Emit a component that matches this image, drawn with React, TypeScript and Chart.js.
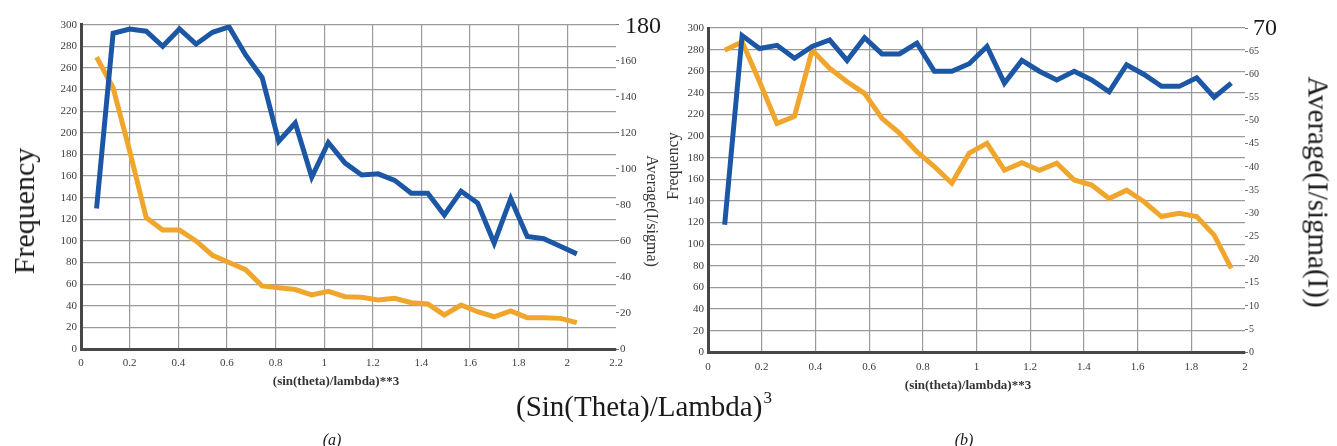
import React, { useEffect, useRef } from "react";
import { Chart, registerables } from "chart.js";

Chart.register(...registerables);

// ---- Panel (a) ----
const xA = [0.064, 0.132, 0.2, 0.268, 0.336, 0.405, 0.473, 0.541, 0.609, 0.677, 0.745, 0.813, 0.881, 0.949, 1.017, 1.086, 1.154, 1.222, 1.29, 1.358, 1.426, 1.494, 1.563, 1.631, 1.699, 1.767, 1.835, 1.903, 1.971, 2.039];
const freqA = [130, 292, 296, 294, 280, 296, 282, 293, 298, 272, 251, 192, 209, 159, 191, 172, 161, 162, 156, 144, 144, 124, 146, 135, 98, 139, 104, 102, 95, 88];
const isigA = [162, 145, 110, 73, 66, 66, 60, 52, 48, 44, 35, 34, 33, 30, 32, 29, 28.7, 27.2, 28.1, 25.7, 25, 18.9, 24.4, 20.7, 17.9, 21.1, 17.4, 17.4, 17, 14.6];

// ---- Panel (b) ----
const xB = [0.062, 0.127, 0.192, 0.257, 0.322, 0.388, 0.453, 0.518, 0.583, 0.648, 0.713, 0.778, 0.843, 0.908, 0.973, 1.039, 1.104, 1.169, 1.234, 1.299, 1.364, 1.429, 1.494, 1.559, 1.624, 1.689, 1.755, 1.82, 1.885, 1.949];
const freqB = [118, 293, 281, 284, 272, 283, 289, 270, 291, 276, 276, 286, 260, 260, 267, 283, 249, 270, 260, 252, 260, 252, 241, 266, 257, 246, 246, 254, 236, 249];
const isigB = [65.2, 67, 58.4, 49.4, 50.9, 65.2, 61.3, 58.4, 55.9, 50.5, 47.3, 43.3, 40.1, 36.5, 43, 45.1, 39.3, 40.9, 39.3, 40.8, 37.2, 36.1, 33.2, 35, 32.5, 29.3, 30, 29.3, 25.3, 18.1];

// Axis ranges
const freqMax = 300;
const freqStep = 20;
const xMaxA = 2.2;
const xMaxB = 2;
const xStep = 0.2;
const rightMaxA = 180;
const rightStepA = 20;
const rightMaxB = 70;
const rightStepB = 5;

const BLUE = "#1c57a6";
const ORANGE = "#f0a62c";
const GRID = "#9a9a9a";
const AXIS = "#474747";
const TICK_COLOR = "#3c3c3c";
const SERIF = "'Liberation Serif', 'DejaVu Serif', serif";

type PanelCfg = {
  xs: number[];
  freq: number[];
  isig: number[];
  xMax: number;
  rightMax: number;
  rightStep: number;
  padTop: number;
  xHeight: number;
  leftWidth: number;
  rightWidth: number;
  rightFont: number;
};

function pairs(xs: number[], ys: number[]) {
  return xs.map((x, i) => ({ x, y: ys[i] }));
}

// "1.0" -> "1", "0.2" -> "0.2"
function fmtX(v: any) {
  return String(Number(Number(v).toFixed(1)));
}

function makeConfig(p: PanelCfg): any {
  return {
    type: "line",
    data: {
      datasets: [
        {
          label: "Frequency",
          data: pairs(p.xs, p.freq),
          yAxisID: "y",
          borderColor: BLUE,
          borderWidth: 5,
          pointRadius: 0,
          tension: 0,
          order: 0,
        },
        {
          label: "Average(I/sigma)",
          data: pairs(p.xs, p.isig),
          yAxisID: "y1",
          borderColor: ORANGE,
          borderWidth: 5,
          pointRadius: 0,
          tension: 0,
          order: 1,
        },
      ],
    },
    options: {
      animation: false,
      responsive: false,
      layout: { padding: { top: p.padTop, left: 0, right: 0, bottom: 0 } },
      plugins: { legend: { display: false }, tooltip: { enabled: false } },
      scales: {
        x: {
          type: "linear",
          min: 0,
          max: p.xMax,
          ticks: {
            stepSize: xStep,
            padding: 8,
            color: TICK_COLOR,
            font: { family: SERIF, size: 11 },
            maxRotation: 0,
            callback: fmtX,
          },
          grid: {
            drawTicks: false,
            lineWidth: 1.2,
            color: (c: any) =>
              c.tick && c.tick.value >= p.xMax - 1e-6 ? "rgba(0,0,0,0)" : GRID,
          },
          border: { color: AXIS, width: 3 },
          afterFit: (s: any) => {
            s.height = p.xHeight;
          },
        },
        y: {
          position: "left",
          min: 0,
          max: freqMax,
          ticks: {
            stepSize: freqStep,
            padding: 4,
            color: TICK_COLOR,
            font: { family: SERIF, size: 11 },
          },
          grid: { drawTicks: false, color: GRID, lineWidth: 1.2 },
          border: { color: AXIS, width: 3 },
          afterFit: (s: any) => {
            s.width = p.leftWidth;
          },
        },
        y1: {
          position: "right",
          min: 0,
          max: p.rightMax,
          ticks: {
            stepSize: p.rightStep,
            padding: 1,
            color: TICK_COLOR,
            font: { family: SERIF, size: p.rightFont },
            callback: (v: any) => (v >= p.rightMax ? "" : String(v)),
          },
          grid: {
            drawOnChartArea: false,
            drawTicks: true,
            tickLength: 3,
            color: "#777",
          },
          border: { display: false },
          afterFit: (s: any) => {
            s.width = p.rightWidth;
          },
        },
      },
    },
  };
}

function ChartCanvas({ cfg, left, width }: { cfg: PanelCfg; left: number; width: number }) {
  const ref = useRef<HTMLCanvasElement | null>(null);
  useEffect(() => {
    if (!ref.current) return;
    const chart = new Chart(ref.current, makeConfig(cfg));
    return () => chart.destroy();
  }, []);
  return (
    <canvas
      ref={ref}
      width={width}
      height={446}
      style={{ position: "absolute", left, top: 0, width, height: 446 }}
    />
  );
}

function Label({
  text,
  cx,
  cy,
  size,
  rotate = 0,
  italic = false,
  bold = false,
  color = "#1a1a1a",
}: {
  text: React.ReactNode;
  cx: number;
  cy: number;
  size: number;
  rotate?: number;
  italic?: boolean;
  bold?: boolean;
  color?: string;
}) {
  return (
    <div
      style={{
        position: "absolute",
        left: cx,
        top: cy,
        transform: `translate(-50%, -50%) rotate(${rotate}deg)`,
        whiteSpace: "nowrap",
        fontFamily: SERIF,
        fontSize: size,
        lineHeight: `${size}px`,
        fontStyle: italic ? "italic" : "normal",
        fontWeight: bold ? "bold" : "normal",
        color,
      }}
    >
      {text}
    </div>
  );
}

const panelA: PanelCfg = {
  xs: xA,
  freq: freqA,
  isig: isigA,
  xMax: xMaxA,
  rightMax: rightMaxA,
  rightStep: rightStepA,
  padTop: 24.7,
  xHeight: 97,
  leftWidth: 81,
  rightWidth: 64,
  rightFont: 11,
};

const panelB: PanelCfg = {
  xs: xB,
  freq: freqB,
  isig: isigB,
  xMax: xMaxB,
  rightMax: rightMaxB,
  rightStep: rightStepB,
  padTop: 28,
  xHeight: 93.7,
  leftWidth: 28,
  rightWidth: 92,
  rightFont: 10,
};

export default function App() {
  return (
    <div
      style={{
        position: "absolute",
        left: 0,
        top: 0,
        width: 1337,
        height: 446,
        background: "#fff",
        overflow: "hidden",
      }}
    >
      <ChartCanvas cfg={panelA} left={0} width={680} />
      <ChartCanvas cfg={panelB} left={680} width={657} />

      <Label text="Frequency" cx={24} cy={211} size={30} rotate={-90} />
      <Label text="Average(I/sigma)" cx={652} cy={211} size={16} rotate={90} color="#333" />
      <Label text="Frequency" cx={673} cy={166} size={16} rotate={-90} color="#333" />
      <Label text="Average(I/sigma(I))" cx={1318} cy={192} size={29} rotate={90} />

      <div style={{ position: "absolute", left: 625, top: 13, fontFamily: SERIF, fontSize: 24, lineHeight: "24px", color: "#1a1a1a" }}>180</div>
      <div style={{ position: "absolute", left: 1253, top: 15, fontFamily: SERIF, fontSize: 24, lineHeight: "24px", color: "#1a1a1a" }}>70</div>

      <Label text="(sin(theta)/lambda)**3" cx={336} cy={380} size={13} bold color="#333" />
      <Label text="(sin(theta)/lambda)**3" cx={968} cy={384} size={13} bold color="#333" />

      <div
        style={{
          position: "absolute",
          left: 516,
          top: 392,
          fontFamily: SERIF,
          fontSize: 29,
          lineHeight: "29px",
          color: "#1a1a1a",
          whiteSpace: "nowrap",
        }}
      >
        (Sin(Theta)/Lambda)
        <span style={{ fontSize: 17, position: "relative", top: -13, marginLeft: 1, lineHeight: 0 }}>3</span>
      </div>

      <Label text="(a)" cx={332} cy={440} size={16} italic />
      <Label text="(b)" cx={964} cy={440} size={16} italic />
    </div>
  );
}
